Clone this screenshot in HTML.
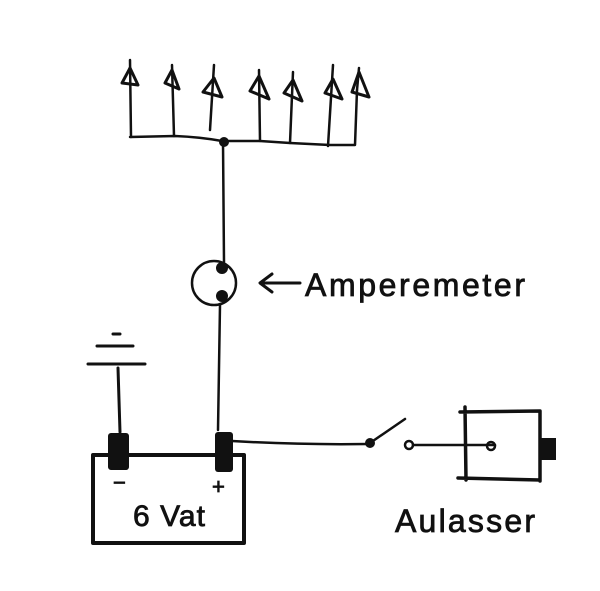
<!DOCTYPE html>
<html><head><style>body{margin:0;background:#fff}svg{display:block}</style></head><body>
<svg width="600" height="591" viewBox="0 0 600 591" xmlns="http://www.w3.org/2000/svg">
<rect width="600" height="591" fill="#fff"/>
<g stroke="#111" stroke-width="2.5" fill="none" stroke-linecap="round" stroke-linejoin="round">
<path d="M130 137 L175 136 Q200 137 222 141 L260 141 L290 143 L330 145 L355 145 L357 90"/>
<path d="M131 137 L130 60 M174 136 L172 65 M210 130 L214 65 M260 141 L259 70 M290 143 L293 72 M328 146 L333 65 M357 90 L359 68"/>
<g stroke-width="3">
<path d="M122 83 L130 68 L138 85 Z"/><path d="M165 83 L172 70 L179 89 Z"/><path d="M203 92 L214 78 L222 97 Z"/><path d="M250 91 L259 76 L269 99 Z"/><path d="M284 93 L293 80 L302 101 Z"/><path d="M325 93 L333 79 L342 99 Z"/><path d="M352 92 L359 72 L369 97 Z"/>
</g>
<path d="M223 142 L224 262 M220 305 L218 430"/>
<circle cx="214" cy="283" r="22"/>
<path d="M300 283 L262 283 M272 274 L260 283 L272 292" stroke-width="3"/>
<path d="M113 334 L120 334 M97 346 L133 346 M88 364 L145 364 M118 368 L120 432" stroke-width="3"/>
<rect x="93" y="455" width="151" height="88" stroke-width="4"/>
<path d="M232 441 Q300 445 368 444 M370 443 L405 419"/>
<path d="M413 445 L495 445"/>
<circle cx="409" cy="445" r="4"/><circle cx="491" cy="446" r="4"/>
<path d="M465 407 L466 480 M458 478 L540 480 M460 412 L540 411 L540 481" stroke-width="3.5"/>
</g>
<g fill="#111">
<circle cx="224" cy="142" r="5"/><circle cx="370" cy="443" r="5"/>
<circle cx="222" cy="268" r="6"/><circle cx="222" cy="296" r="6"/>
<rect x="108" y="433" width="21" height="37" rx="3"/>
<rect x="215" y="432" width="18" height="40" rx="3"/>
<rect x="540" y="438" width="16" height="22"/>
</g>
<g font-family="Liberation Sans, sans-serif" fill="#111" stroke="#111" stroke-width="0.8">
<text x="305" y="296" font-size="32" textLength="220">Amperemeter</text>
<text x="113" y="490" font-size="22">−</text>
<text x="212" y="494" font-size="22">+</text>
<text x="133" y="526" font-size="30" textLength="72">6 Vat</text>
<text x="395" y="532" font-size="32" textLength="140">Aulasser</text>
</g>
</svg>
</body></html>
